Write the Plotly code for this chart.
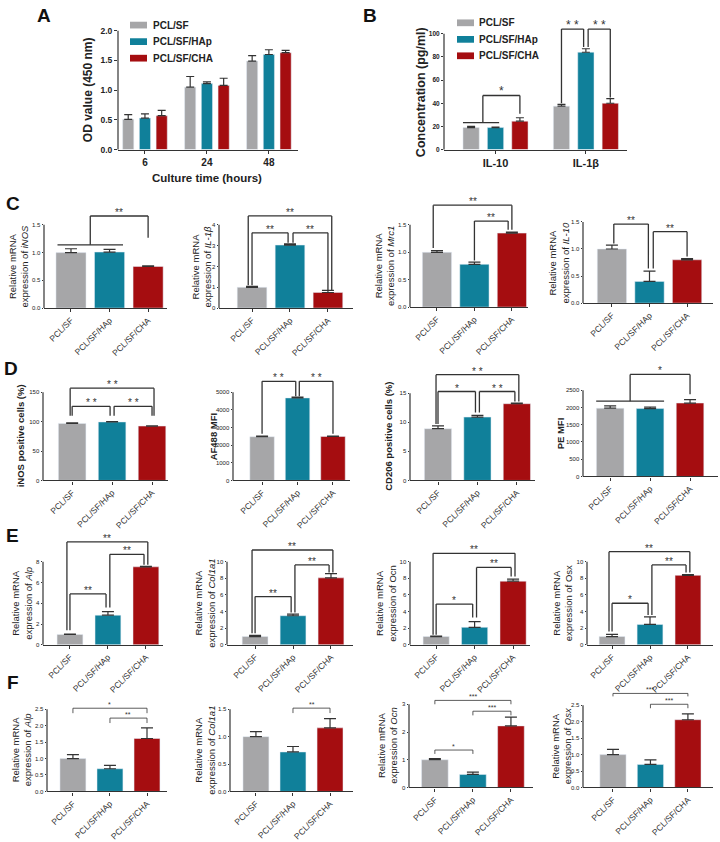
import plotly.graph_objects as go

W, H = 720, 842
FONT = "Liberation Sans, Arial, sans-serif"
INK = "#333333"


def X(px):
    return px / W


def Y(py):
    return 1 - py / H


groups = ["PCL/SF", "PCL/SF/HAp", "PCL/SF/CHA"]
colors = ["#A6A6A8", "#10809A", "#A50D10"]

# A - cell proliferation (OD 450 nm)
hours = ["6", "24", "48"]
od_sf = [0.51, 1.05, 1.49]
od_sf_sd = [0.08, 0.18, 0.09]
od_hap = [0.53, 1.11, 1.60]
od_hap_sd = [0.07, 0.03, 0.08]
od_cha = [0.57, 1.08, 1.63]
od_cha_sd = [0.09, 0.12, 0.04]

# B - cytokine release (pg/ml)
cytokines = ["IL-10", "IL-1β"]
conc_sf = [19.0, 37.5]
conc_sf_sd = [1.0, 1.5]
conc_hap = [19.0, 84.0]
conc_hap_sd = [0.5, 3.0]
conc_cha = [24.5, 40.0]
conc_cha_sd = [3.0, 4.0]

# C - macrophage genes
c_inos = [1.00, 1.01, 0.75]
c_inos_sd = [0.07, 0.05, 0.01]
c_il1b = [1.00, 3.03, 0.75]
c_il1b_sd = [0.04, 0.06, 0.10]
c_mrc1 = [1.00, 0.78, 1.35]
c_mrc1_sd = [0.03, 0.04, 0.02]
c_il10 = [1.00, 0.40, 0.80]
c_il10_sd = [0.07, 0.19, 0.02]

# D - flow cytometry
d_inos = [97.0, 99.5, 92.5]
d_inos_sd = [1.0, 0.5, 0.5]
d_af488 = [2480, 4680, 2490]
d_af488_sd = [30, 40, 30]
d_cd206 = [8.9, 10.9, 13.2]
d_cd206_sd = [0.5, 0.3, 0.1]
d_pe = [1980, 1970, 2130]
d_pe_sd = [70, 40, 100]

# E - osteogenic genes
e_alp = [1.0, 2.85, 7.5]
e_alp_sd = [0.03, 0.35, 0.05]
e_col = [1.0, 3.5, 8.05]
e_col_sd = [0.15, 0.2, 0.5]
e_ocn = [1.0, 2.1, 7.65]
e_ocn_sd = [0.05, 0.7, 0.25]
e_osx = [1.0, 2.45, 8.35]
e_osx_sd = [0.25, 0.9, 0.1]

# F - osteogenic genes
f_alp = [1.0, 0.69, 1.61]
f_alp_sd = [0.12, 0.10, 0.32]
f_col = [1.0, 0.72, 1.16]
f_col_sd = [0.09, 0.10, 0.17]
f_ocn = [1.0, 0.47, 2.22]
f_ocn_sd = [0.04, 0.08, 0.32]
f_osx = [1.0, 0.70, 2.06]
f_osx_sd = [0.16, 0.14, 0.18]

mrna = "Relative mRNA<br>expression of "

# box = (left px, right px, y of zero px, y of top tick px, top of plot px)
panels = [
    dict(y=c_inos, sd=c_inos_sd, title=mrna + "<i>iNOS</i>", tx=18, box=(44, 167, 308, 224, 195),
         ticks=[0, 0.5, 1.0, 1.5], fmt=".1f", xr=[-0.70, 2.49], bw=0.78,
         groupline=[(-0.35, 1.35, 1.14)], br=[(0.5, 2.0, 1.14, 1.66, 1.27, "**")]),
    dict(y=c_il1b, sd=c_il1b_sd, title=mrna + "<i>IL-1β</i>", tx=201, box=(219, 353, 308, 224, 195),
         ticks=[0, 1, 2, 3, 4], fmt="", xr=[-0.87, 2.66], bw=0.78,
         br=[(0.0, 0.95, 1.1, 3.62, 3.14, "**"), (1.08, 2.0, 3.14, 3.62, 0.86, "**"),
             (-0.1, 2.1, 1.1, 4.43, 0.86, "**")]),
    dict(y=c_mrc1, sd=c_mrc1_sd, title=mrna + "<i>Mrc1</i>", tx=385, box=(410, 528, 307, 224, 195),
         ticks=[0, 0.5, 1.0, 1.5], fmt=".1f", xr=[-0.72, 2.43], bw=0.78,
         br=[(1.0, 1.9, 0.85, 1.57, 1.41, "**"), (-0.1, 2.0, 1.08, 1.86, 1.41, "**")]),
    dict(y=c_il10, sd=c_il10_sd, title=mrna + "<i>IL-10</i>", tx=559, box=(583, 713, 303, 221, 195),
         ticks=[0, 0.5, 1.0, 1.5], fmt=".1f", xr=[-0.77, 2.69], bw=0.78,
         br=[(0.05, 0.97, 1.10, 1.46, 0.64, "**"), (1.1, 2.0, 0.64, 1.32, 0.86, "**")]),

    dict(y=d_inos, sd=d_inos_sd, title="<b>iNOS positive cells (%)</b>", tx=20, box=(43, 168, 482, 393, 365),
         ticks=[0, 50, 100, 150], fmt="", xr=[-0.73, 2.4], bw=0.69,
         br=[(0.0, 0.95, 110, 126, 110, "* *"), (1.05, 2.0, 110, 126, 110, "* *"),
             (-0.05, 2.05, 110, 157, 110, "* *")]),
    dict(y=d_af488, sd=d_af488_sd, title="<b>AF488 MFI</b>", tx=213, box=(233, 350, 482, 393, 365),
         ticks=[0, 1000, 2000, 3000, 4000, 5000], fmt="", xr=[-0.82, 2.48], bw=0.69,
         br=[(0.0, 0.95, 2640, 5620, 4780, "* *"), (1.05, 2.0, 4780, 5620, 2640, "* *")]),
    dict(y=d_cd206, sd=d_cd206_sd, title="<b>CD206 positive cells (%)</b>", tx=389, box=(410, 535, 482, 394, 365),
         ticks=[0, 5, 10, 15], fmt="", xr=[-0.71, 2.46], bw=0.69,
         br=[(0.0, 0.95, 9.7, 15.3, 11.7, "*"), (1.05, 1.95, 11.7, 15.3, 13.6, "* *"),
             (-0.05, 2.05, 9.7, 18.2, 13.6, "* *")]),
    dict(y=d_pe, sd=d_pe_sd, title="<b>PE MFI</b>", tx=560, box=(583, 718, 478, 391, 365),
         ticks=[0, 500, 1000, 1500, 2000, 2500], fmt="", xr=[-0.68, 2.7], bw=0.69,
         groupline=[(-0.35, 1.35, 2184)], br=[(0.5, 2.0, 2184, 2960, 2385, "*")]),

    dict(y=e_alp, sd=e_alp_sd, title=mrna + "<i>Alp</i>", tx=21.5, box=(43, 163, 648, 564, 535),
         ticks=[0, 2, 4, 6, 8], fmt="", xr=[-0.71, 2.45], bw=0.68,
         br=[(0.0, 0.95, 1.4, 4.9, 3.6, "**"), (1.05, 1.95, 3.6, 8.7, 7.7, "**"),
             (-0.08, 2.05, 1.4, 9.9, 7.7, "**")]),
    dict(y=e_col, sd=e_col_sd, title=mrna + "<i>Col1a1</i>", tx=204.5, box=(227, 353, 648, 564, 535),
         ticks=[0, 2, 4, 6, 8, 10], fmt="", xr=[-0.74, 2.58], bw=0.68,
         br=[(0.0, 0.95, 1.4, 5.8, 3.9, "**"), (1.05, 1.95, 3.9, 9.6, 8.7, "**"),
             (-0.08, 2.05, 1.4, 11.4, 8.7, "**")]),
    dict(y=e_ocn, sd=e_ocn_sd, title=mrna + "Ocn", tx=385.5, box=(410, 530, 648, 564, 535),
         ticks=[0, 2, 4, 6, 8, 10], fmt="", xr=[-0.68, 2.44], bw=0.68,
         br=[(0.0, 0.95, 1.2, 4.9, 3.3, "*"), (1.05, 1.95, 3.3, 9.3, 8.2, "**"),
             (-0.08, 2.05, 1.2, 11.0, 8.2, "**")]),
    dict(y=e_osx, sd=e_osx_sd, title=mrna + "Osx", tx=562, box=(587, 713, 648, 564, 535),
         ticks=[0, 2, 4, 6, 8, 10], fmt="", xr=[-0.66, 2.66], bw=0.68,
         br=[(0.0, 0.95, 1.6, 5.0, 3.6, "*"), (1.05, 1.95, 3.6, 9.6, 8.7, "**"),
             (-0.08, 2.05, 1.6, 11.2, 8.7, "**")]),

    dict(y=f_alp, sd=f_alp_sd, title=mrna + "<i>Alp</i>", tx=21, box=(47, 167, 796, 713, 690),
         ticks=[0, 0.5, 1.0, 1.5, 2.0, 2.5], fmt=".1f", xr=[-0.70, 2.54], bw=0.70, small=True,
         br=[(0.0, 2.0, 2.38, 2.53, 2.38, "*"), (1.0, 2.0, 2.08, 2.23, 2.08, "**")]),
    dict(y=f_col, sd=f_col_sd, title=mrna + "<i>Col1a1</i>", tx=204.5, box=(230, 353, 796, 713, 690),
         ticks=[0, 0.5, 1.0, 1.5], fmt=".1f", xr=[-0.70, 2.62], bw=0.70, small=True,
         br=[(1.0, 2.0, 1.43, 1.52, 1.43, "**")]),
    dict(y=f_ocn, sd=f_ocn_sd, title=mrna + "<i>Ocn</i>", tx=388, box=(409, 533, 792, 708, 690),
         ticks=[0, 1, 2, 3], fmt="", xr=[-0.68, 2.58], bw=0.70, small=True,
         br=[(0.0, 1.0, 1.21, 1.35, 1.21, "*"), (1.0, 2.0, 2.6, 2.75, 2.6, "***"),
             (0.0, 2.0, 3.0, 3.14, 3.0, "***")]),
    dict(y=f_osx, sd=f_osx_sd, title=mrna + "<i>Osx</i>", tx=561, box=(583, 713, 792, 709, 690),
         ticks=[0, 0.5, 1.0, 1.5, 2.0, 2.5], fmt=".1f", xr=[-0.80, 2.67], bw=0.70, small=True,
         br=[(1.0, 2.0, 2.41, 2.53, 2.41, "***"), (0.0, 2.0, 2.77, 2.86, 2.77, "***")]),
]

fig = go.Figure()
shapes = []
annots = []


def ax_names(n):
    s = "" if n == 1 else str(n)
    return "xaxis" + s, "yaxis" + s, "x" + s, "y" + s


def setup_axes(n, box, ticks, fmt, xr, xfont, yfont, xangle, ylen=1.5):
    xl, xrt, y0, ytop, head = box
    rmax = ticks[-1] * (y0 - head) / (y0 - ytop)
    xa, ya, xref, yref = ax_names(n)
    fig.update_layout(**{
        xa: dict(domain=[X(xl), X(xrt)], range=xr, type="category", anchor=yref,
                 showline=True, linecolor=INK, linewidth=1.2, ticks="outside", ticklen=3,
                 tickcolor=INK, tickwidth=1.1, tickfont=xfont, tickangle=xangle,
                 showgrid=False, zeroline=False, fixedrange=True),
        ya: dict(domain=[Y(y0), Y(head)], range=[0, rmax], anchor=xref,
                 showline=False, ticks="outside", ticklen=ylen, tickcolor=INK, tickwidth=1.1,
                 tickvals=ticks, tickformat=fmt, tickfont=yfont,
                 showgrid=False, zeroline=False, fixedrange=True),
    })
    # y axis line only up to the top tick, GraphPad style
    shapes.append(dict(type="line", xref="paper", yref="paper", x0=X(xl), x1=X(xl),
                       y0=Y(y0), y1=Y(ytop), line=dict(color=INK, width=1.2)))
    return xref, yref


def hline(xref, yref, xa, xb, y, lw):
    shapes.append(dict(type="line", xref=xref, yref=yref, x0=xa, x1=xb, y0=y, y1=y,
                       line=dict(color=INK, width=lw)))


def bracket(xref, yref, b, lw, fs, shift):
    xa, xb, ya, yt, yb, label = b
    for x0, y0, x1, y1 in [(xa, ya, xa, yt), (xa, yt, xb, yt), (xb, yt, xb, yb)]:
        shapes.append(dict(type="line", xref=xref, yref=yref, x0=x0, x1=x1, y0=y0, y1=y1,
                           line=dict(color=INK, width=lw)))
    annots.append(dict(x=(xa + xb) / 2, y=yt, xref=xref, yref=yref, text=label,
                       showarrow=False, xanchor="center", yanchor="bottom", yshift=shift,
                       font=dict(size=fs, color=INK, family=FONT)))


def text(px, py, s, size, angle=0, anchor="center", color="#222"):
    annots.append(dict(x=X(px), y=Y(py), xref="paper", yref="paper", text=s, textangle=angle,
                       showarrow=False, xanchor=anchor, yanchor="middle",
                       font=dict(size=size, color=color, family=FONT)))


# ---- A ----
boxA = (118, 298, 148, 28, 26)
xr_, yr_ = setup_axes(1, boxA, [0, 0.5, 1.0, 1.5, 2.0], ".1f", [-0.435, 2.47],
                      dict(size=10, color="#222", family=FONT, weight="bold"),
                      dict(size=8.5, color="#222", family=FONT, weight="bold"), 0, ylen=3)
for k, (vals, sd) in enumerate([(od_sf, od_sf_sd), (od_hap, od_hap_sd), (od_cha, od_cha_sd)]):
    fig.add_trace(go.Bar(x=hours, y=vals, name=groups[k], marker_color=colors[k],
                         width=0.18, offset=-0.36 + 0.27 * k, xaxis=xr_, yaxis=yr_,
                         error_y=dict(type="data", symmetric=False, array=sd, arrayminus=[0] * 3,
                                      color=INK, thickness=1.2, width=4)))

# ---- B ----
boxB = (444, 627, 148, 31, 15)
xr_, yr_ = setup_axes(2, boxB, [0, 20, 40, 60, 80, 100], "", [-0.57, 1.455],
                      dict(size=11, color="#222", family=FONT, weight="bold"),
                      dict(size=6.5, color="#222", family=FONT, weight="bold"), 0, ylen=2)
for k, (vals, sd) in enumerate([(conc_sf, conc_sf_sd), (conc_hap, conc_hap_sd), (conc_cha, conc_cha_sd)]):
    fig.add_trace(go.Bar(x=cytokines, y=vals, name=groups[k], marker_color=colors[k],
                         width=0.18, offset=-0.36 + 0.27 * k, xaxis=xr_, yaxis=yr_,
                         error_y=dict(type="data", symmetric=False, array=sd, arrayminus=[0] * 2,
                                      color=INK, thickness=1.2, width=4)))
hline(xr_, yr_, -0.36, 0.04, 23.3, 1.3)
bracket(xr_, yr_, (-0.14, 0.27, 23.3, 46.7, 31, "*"), 1.3, 12, -5)
bracket(xr_, yr_, (0.73, 0.975, 40, 104, 88.5, "* *"), 1.3, 12, -5)
bracket(xr_, yr_, (1.025, 1.27, 88.5, 104, 45, "* *"), 1.3, 12, -5)

# ---- C-F ----
for i, p in enumerate(panels):
    n = i + 3
    small = p.get("small", False)
    xr_, yr_ = setup_axes(n, p["box"], p["ticks"], p["fmt"], p["xr"],
                          dict(size=8.5, color=INK, family=FONT),
                          dict(size=6, color="#222", family=FONT), -45)
    fig.add_trace(go.Bar(x=groups, y=p["y"], marker_color=colors, width=p["bw"],
                         xaxis=xr_, yaxis=yr_, showlegend=False,
                         error_y=dict(type="data", symmetric=False, array=p["sd"],
                                      arrayminus=[0] * 3, color=INK, thickness=1.2, width=6)))
    lw = 0.8 if small else 1.3
    fs = 7 if small else 10
    for g in p.get("groupline", []):
        hline(xr_, yr_, g[0], g[1], g[2], lw)
    for b in p["br"]:
        bracket(xr_, yr_, b, lw, fs, -2 if small else -4)
    xl, xrt, y0, ytop, head = p["box"]
    text(p["tx"], (y0 + ytop) / 2, p["title"], 9.5, angle=-90)

# axis titles A, B
text(88, 88, "<b>OD value (450 nm)</b>", 12, angle=-90)
text(207, 177, "<b>Culture time (hours)</b>", 11.5)
text(421, 90, "<b>Concentration (pg/ml)</b>", 12.5, angle=-90)

# legends drawn by hand
for (sx, tx, rows) in [(130, 151, [22.3, 39, 55.7]), (457, 477, [20, 36.7, 53.3])]:
    for k, ry in enumerate(rows):
        shapes.append(dict(type="rect", xref="paper", yref="paper", x0=X(sx), x1=X(sx + 17),
                           y0=Y(ry + 3.4), y1=Y(ry - 3.4),
                           fillcolor=colors[k], line=dict(width=0)))
        text(tx, ry, "<b>" + groups[k] + "</b>", 10, anchor="left")

# panel letters
for letter, lx, ly in [("A", 44, 13), ("B", 370, 13), ("C", 13, 202), ("D", 11, 369), ("E", 12, 538), ("F", 13, 686)]:
    text(lx, ly, "<b>" + letter + "</b>", 19, color="#111")

fig.update_layout(width=W, height=H, margin=dict(l=0, r=0, t=0, b=0),
                  paper_bgcolor="white", plot_bgcolor="white", showlegend=False,
                  barmode="overlay", font=dict(family=FONT, color=INK),
                  shapes=shapes, annotations=annots)

# drop the browser's default 8px body margin so the figure sits at the page origin
fig.write_html("out.html", config={"displayModeBar": False},
               post_script="document.body.style.margin='0px';")
